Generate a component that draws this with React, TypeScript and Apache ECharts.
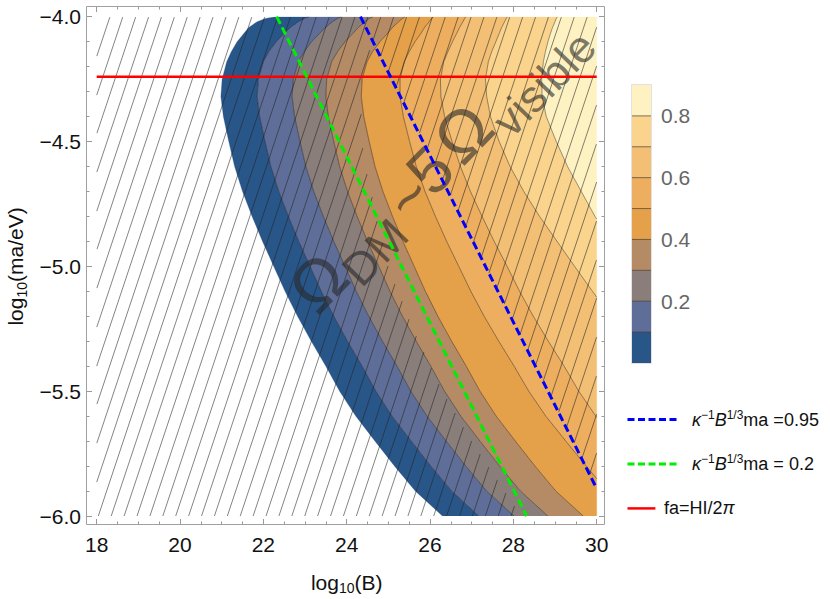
import React, { useEffect, useRef } from 'react';
import * as echarts from 'echarts';

// ---------- data ----------
const xTickValues = [18, 20, 22, 24, 26, 28, 30];
const yTickValues = [-6, -5.5, -5, -4.5, -4];

// y samples shared by all contour curves
const contourY = [-4.0, -4.007, -4.02, -4.043, -4.067, -4.1, -4.14, -4.18, -4.25, -4.32, -4.4, -4.5, -4.6, -4.7, -4.8, -4.9, -5.0, -5.1, -5.2, -5.3, -5.4, -5.5, -5.6, -5.7, -5.8, -5.9, -6.0];
// x of each contour boundary at those y (level 0 edge, then 0.1 ... 0.8)
const edge0X = [22.29, 22.05, 21.85, 21.65, 21.53, 21.37, 21.23, 21.12, 21.01, 20.98, 21.04, 21.17, 21.31, 21.5, 21.73, 21.98, 22.25, 22.52, 22.82, 23.15, 23.5, 23.83, 24.22, 24.68, 25.15, 25.65, 26.3];
const level1X = [23.1, 22.98, 22.84, 22.65, 22.5, 22.31, 22.13, 22.0, 21.88, 21.85, 21.91, 22.04, 22.18, 22.37, 22.6, 22.85, 23.12, 23.39, 23.69, 24.02, 24.37, 24.7, 25.09, 25.55, 26.02, 26.52, 27.17];
const level2X = [23.87, 23.78, 23.66, 23.49, 23.35, 23.16, 22.98, 22.84, 22.72, 22.69, 22.75, 22.88, 23.02, 23.21, 23.44, 23.69, 23.96, 24.23, 24.53, 24.86, 25.21, 25.54, 25.93, 26.39, 26.86, 27.36, 28.02];
const level3X = [24.63, 24.55, 24.44, 24.28, 24.15, 23.96, 23.78, 23.64, 23.52, 23.5, 23.56, 23.69, 23.83, 24.02, 24.25, 24.5, 24.77, 25.04, 25.34, 25.67, 26.02, 26.35, 26.74, 27.2, 27.67, 28.17, 28.83];
const level4X = [25.4, 25.34, 25.25, 25.1, 24.98, 24.8, 24.62, 24.49, 24.37, 24.35, 24.41, 24.54, 24.68, 24.87, 25.1, 25.35, 25.62, 25.89, 26.19, 26.52, 26.87, 27.2, 27.59, 28.05, 28.52, 29.02, 29.68];
const level5X = [26.08, 26.04, 25.98, 25.87, 25.78, 25.64, 25.5, 25.38, 25.28, 25.28, 25.36, 25.51, 25.67, 25.88, 26.13, 26.4, 26.69, 26.98, 27.3, 27.65, 28.02, 28.37, 28.78, 29.26, 29.75];
const level6X = [26.86, 26.83, 26.79, 26.71, 26.64, 26.54, 26.43, 26.33, 26.25, 26.26, 26.35, 26.53, 26.73, 26.97, 27.25, 27.54, 27.85, 28.15, 28.48, 28.84, 29.22, 29.57, 29.98];
const level7X = [27.86, 27.83, 27.79, 27.72, 27.66, 27.58, 27.48, 27.4, 27.33, 27.36, 27.45, 27.66, 27.92, 28.25, 28.63, 29.05, 29.47, 29.9];
const level8X = [29.06, 29.03, 29.0, 28.94, 28.89, 28.83, 28.77, 28.72, 28.68, 28.69, 28.79, 29.03, 29.3, 29.63, 29.96];
// y where a curve leaves through the right edge (x = 30); null = reaches the bottom
const levelExitY = [null, null, null, null, null, -5.85, -5.605, -5.123, -4.81];

const bandLevels = [0, 0.1, 0.2, 0.3, 0.4, 0.5, 0.6, 0.7, 0.8, 0.9];
const bandColors = ['#285689', '#5e6e98', '#8a7e7b', '#b58b65', '#e5a04a', '#edae60', '#f3bf74', '#fad48d', '#fef2c2'];
const colorbarTicks = [0.2, 0.4, 0.6, 0.8];

// boundary of the left hatched region
const hatchEdgeY = [-4.0, -4.1, -4.25, -4.4, -4.55, -4.75, -5.0, -5.25, -5.5, -5.75, -6.0];
const hatchEdgeX = [25.0, 24.6, 24.4, 24.35, 24.4, 24.65, 25.0, 25.6, 26.3, 27.2, 28.2];

const lineK095 = [[24.33, -4.0], [30.0, -5.89]];
const lineK02 = [[22.32, -4.0], [28.32, -6.0]];
const lineFa = [[18, -4.24], [30, -4.24]];

// ---------- helpers ----------
const FONT = "'Liberation Sans', Arial, Helvetica, sans-serif";
const contourX = [edge0X, level1X, level2X, level3X, level4X, level5X, level6X, level7X, level8X];

function curvePoints(k: number): number[][] {
  const pts = contourX[k].map((x, i) => [x, contourY[i]]);
  const ex = levelExitY[k];
  if (ex !== null) pts.push([30, ex]);
  return pts;
}

function bandPolygon(k: number): number[][] {
  const left = curvePoints(k);
  const right = k + 1 < contourX.length ? curvePoints(k + 1) : [[30, -4]];
  const leftEnd = left[left.length - 1];
  const rightEnd = right[right.length - 1];
  const poly = left.slice();
  if (leftEnd[1] === -6 && rightEnd[1] !== -6) poly.push([30, -6]);
  for (let i = right.length - 1; i >= 0; i--) poly.push(right[i]);
  return poly;
}

function interpX(ys: number[], xs: number[], y: number): number {
  for (let i = 0; i < ys.length - 1; i++) {
    if (y <= ys[i] && y >= ys[i + 1]) {
      const t = (y - ys[i]) / (ys[i + 1] - ys[i]);
      return xs[i] + t * (xs[i + 1] - xs[i]);
    }
  }
  return y > ys[0] ? xs[0] : xs[xs.length - 1];
}

function lineX(seg: number[][], y: number): number {
  const [[x0, y0], [x1, y1]] = seg;
  return x0 + (y - y0) * (x1 - x0) / (y1 - y0);
}

export default function App() {
  const ref = useRef<HTMLDivElement>(null);

  useEffect(() => {
    if (!ref.current) return;
    const chart = echarts.init(ref.current, undefined, { renderer: 'svg' });

    const tickAxisBase = {
      type: 'value',
      gridIndex: 0,
      axisLine: { show: false },
      splitLine: { show: false },
      axisTick: { show: true, inside: true, length: 6, lineStyle: { color: '#999', width: 1 } },
      minorTick: { show: true, length: 3.5, lineStyle: { color: '#999', width: 1 } },
    };

    const labelStyle = { color: '#111', fontSize: 21, fontFamily: FONT };
    const nameRich = {
      a: { fontSize: 21, fontFamily: FONT, color: '#111', lineHeight: 26 },
      s: { fontSize: 14, fontFamily: FONT, color: '#111', lineHeight: 12, verticalAlign: 'bottom' },
    };

    const supRich = {
      it: { fontSize: 18, fontFamily: FONT, fontStyle: 'italic', fill: '#111', lineHeight: 22 },
      sup: { fontSize: 12, fontFamily: FONT, fill: '#111', lineHeight: 12, verticalAlign: 'top' },
      n: { fontSize: 18, fontFamily: FONT, fill: '#111', lineHeight: 22 },
    };

    const overlayFill = 'rgba(40,40,40,0.6)';
    const ov = (text: string, x: number, y: number, size: number) => ({
      type: 'text', x, y, z: 5, silent: true,
      style: { text, fontSize: size, fontFamily: FONT, fill: overlayFill, align: 'center', verticalAlign: 'middle' },
    });

    const option: any = {
      animation: false,
      backgroundColor: '#ffffff',
      grid: [
        { left: 96.7, top: 16.7, width: 500, height: 499.4, containLabel: false, outerBoundsMode: 'none' },
        { left: 632, top: 85, width: 19, height: 278, containLabel: false, outerBoundsMode: 'none' },
      ],
      xAxis: [
        {
          ...tickAxisBase, position: 'bottom', offset: 8.9, min: 18, max: 30, interval: 2,
          minorTick: { ...tickAxisBase.minorTick, splitNumber: 4 },
          axisLabel: { ...labelStyle, margin: 9 },
          name: '{a|log}{s|10}{a|(B)}', nameLocation: 'middle', nameGap: 44,
          nameTextStyle: { rich: nameRich },
        },
        {
          ...tickAxisBase, position: 'top', offset: 10.7, min: 18, max: 30, interval: 2,
          minorTick: { ...tickAxisBase.minorTick, splitNumber: 4 },
          axisLabel: { show: false },
        },
        { type: 'value', gridIndex: 1, min: 0, max: 1, show: false },
      ],
      yAxis: [
        {
          ...tickAxisBase, position: 'left', offset: 10.7, min: -6, max: -4, interval: 0.5,
          minorTick: { ...tickAxisBase.minorTick, splitNumber: 5 },
          axisLabel: {
            ...labelStyle, margin: 5,
            formatter: (v: number) => (v < 0 ? '\u2212' : '') + Math.abs(v).toFixed(1),
          },
          name: '{a|log}{s|10}{a|(ma/eV)}', nameLocation: 'middle', nameGap: 52, nameRotate: 90,
          nameTextStyle: { rich: nameRich },
        },
        {
          ...tickAxisBase, position: 'right', offset: 8.3, min: -6, max: -4, interval: 0.5,
          minorTick: { ...tickAxisBase.minorTick, splitNumber: 5 },
          axisLabel: { show: false },
        },
        {
          type: 'value', gridIndex: 1, position: 'right', min: 0, max: 0.9, interval: 0.2,
          axisLine: { show: false }, splitLine: { show: false },
          axisTick: { show: true, inside: false, length: 5, lineStyle: { color: '#ddd' }, customValues: colorbarTicks },
          axisLabel: {
            customValues: colorbarTicks, color: '#666', fontSize: 21, fontFamily: FONT, margin: 10,
            formatter: (v: number) => (colorbarTicks.indexOf(Math.round(v * 10) / 10) >= 0 ? v.toFixed(1) : ''),
          },
        },
      ],
      series: [
        {
          type: 'custom', name: 'bands', xAxisIndex: 0, yAxisIndex: 0, z: 1, clip: true, silent: true,
          data: bandColors.map((_, i) => [i]),
          renderItem: (params: any, api: any) => {
            const k = api.value(0);
            const pts = bandPolygon(k).map((p) => api.coord(p));
            return { type: 'polygon', shape: { points: pts }, style: { fill: bandColors[k], stroke: bandColors[k], lineWidth: 0.3 } };
          },
        },
        {
          type: 'custom', name: 'hatch', xAxisIndex: 0, yAxisIndex: 0, z: 2, clip: true, silent: true,
          data: [[0]],
          renderItem: (params: any, api: any) => {
            const a = api.coord([18, -4]);
            const b = api.coord([30, -6]);
            const toData = (px: number, py: number) => [
              18 + ((px - a[0]) / (b[0] - a[0])) * 12,
              -4 + ((py - a[1]) / (b[1] - a[1])) * -2,
            ];
            const inside = (x: number, y: number) =>
              x >= 18 && x <= 30 && y <= -4 && y >= -6 &&
              (x <= interpX(hatchEdgeY, hatchEdgeX, y) || x >= lineX(lineK095, y));
            const children: any[] = [];
            const spacing = 12.9;
            const x0 = a[0] + 1.6;
            const h = b[1] - a[1];
            const seg = (p: number[], q: number[]) => ({
              type: 'line',
              shape: { x1: p[0], y1: p[1], x2: q[0], y2: q[1] },
              style: { stroke: 'rgba(35,35,35,0.75)', lineWidth: 0.75 },
            });
            for (let k = -15; k < 45; k++) {
              const xb = x0 + spacing * k;
              let start: number[] | null = null;
              let prev: number[] = [xb, b[1]];
              for (let s = 0; s <= h; s += 1) {
                const px = xb + s / 3;
                const py = b[1] - s;
                const d = toData(px, py);
                const ins = inside(d[0], d[1]);
                if (ins && !start) start = [px, py];
                if (!ins && start) { children.push(seg(start, prev)); start = null; }
                prev = [px, py];
              }
              if (start) children.push(seg(start, prev));
            }
            return { type: 'group', children };
          },
        },
        {
          type: 'custom', name: 'contours', xAxisIndex: 0, yAxisIndex: 0, z: 3, clip: true, silent: true,
          data: [1, 2, 3, 4, 5, 6, 7, 8].map((k) => [k]),
          renderItem: (params: any, api: any) => {
            const k = api.value(0);
            const pts = curvePoints(k).map((p) => api.coord(p));
            return { type: 'polyline', shape: { points: pts }, style: { stroke: 'rgba(0,0,0,0.5)', lineWidth: 0.8, fill: null } };
          },
        },
        {
          type: 'line', name: 'fa=HI/2π', xAxisIndex: 0, yAxisIndex: 0, z: 6, data: lineFa,
          showSymbol: false, symbol: 'none', lineStyle: { color: '#ff0000', width: 2.5 },
        },
        {
          type: 'line', name: 'k02', xAxisIndex: 0, yAxisIndex: 0, z: 6, data: lineK02,
          showSymbol: false, symbol: 'none', lineStyle: { color: '#00ee00', width: 3, type: [8, 4] },
        },
        {
          type: 'line', name: 'k095', xAxisIndex: 0, yAxisIndex: 0, z: 6, data: lineK095,
          showSymbol: false, symbol: 'none', lineStyle: { color: '#0000ff', width: 3, type: [8, 4] },
        },
        {
          type: 'custom', name: 'colorbar', xAxisIndex: 2, yAxisIndex: 2, z: 2, silent: true,
          data: bandColors.map((_, i) => [i]),
          renderItem: (params: any, api: any) => {
            const i = api.value(0);
            const p0 = api.coord([0, bandLevels[i + 1]]);
            const p1 = api.coord([1, bandLevels[i]]);
            const children: any[] = [
              { type: 'rect', shape: { x: p0[0], y: p0[1], width: p1[0] - p0[0], height: p1[1] - p0[1] }, style: { fill: bandColors[i] } },
            ];
            if (i > 0) {
              children.push({ type: 'line', shape: { x1: p0[0], y1: p1[1], x2: p1[0], y2: p1[1] }, style: { stroke: 'rgba(45,30,15,0.6)', lineWidth: 1 } });
            }
            return { type: 'group', children };
          },
        },
      ],
      graphic: [
        // plot frame
        { type: 'rect', z: 7, silent: true, shape: { x: 86.5, y: 6.5, width: 518, height: 518 }, style: { fill: 'none', stroke: '#a0a0a0', lineWidth: 1 } },
        // colorbar outline
        { type: 'rect', z: 7, silent: true, shape: { x: 631.5, y: 84.5, width: 20, height: 279 }, style: { fill: 'none', stroke: '#e2e2e2', lineWidth: 1 } },
        // overlay text
        {
          type: 'group', x: 318, y: 282, rotation: 0.8, z: 5, silent: true,
          children: [
            ov('Ω', 0, 0, 68),
            ov('DM', 61, 20, 46),
            ov('~', 124, 6, 62),
            ov('5', 158, 3, 64),
            ov('Ω', 208, 0, 68),
            ov('visible', 300, 24, 45),
          ],
        },
        // legend
        { type: 'line', z: 8, shape: { x1: 627.5, y1: 419.6, x2: 679, y2: 419.6 }, style: { stroke: '#0000ff', lineWidth: 3, lineDash: [7, 3.5] } },
        {
          type: 'text', z: 8, x: 692, y: 419.6,
          style: { text: '{it|κ}{sup|−1}{it|B}{sup|1/3}{n|ma =0.95}', align: 'left', verticalAlign: 'middle', rich: supRich, fontSize: 18, fontFamily: FONT, fill: '#111' },
        },
        { type: 'line', z: 8, shape: { x1: 627.5, y1: 464, x2: 679, y2: 464 }, style: { stroke: '#00ee00', lineWidth: 3, lineDash: [7, 3.5] } },
        {
          type: 'text', z: 8, x: 692, y: 464,
          style: { text: '{it|κ}{sup|−1}{it|B}{sup|1/3}{n|ma = 0.2}', align: 'left', verticalAlign: 'middle', rich: supRich, fontSize: 18, fontFamily: FONT, fill: '#111' },
        },
        { type: 'line', z: 8, shape: { x1: 627.5, y1: 508.4, x2: 655.4, y2: 508.4 }, style: { stroke: '#ff0000', lineWidth: 2.5 } },
        {
          type: 'text', z: 8, x: 664, y: 508.4,
          style: { text: '{n|fa=HI/2}{it|π}', align: 'left', verticalAlign: 'middle', rich: supRich, fontSize: 18, fontFamily: FONT, fill: '#111' },
        },
      ],
    };

    chart.setOption(option);
    return () => chart.dispose();
  }, []);

  return (
    <div
      ref={ref}
      style={{ position: 'absolute', left: 0, top: 0, width: 830, height: 599, background: '#fff' }}
    />
  );
}
